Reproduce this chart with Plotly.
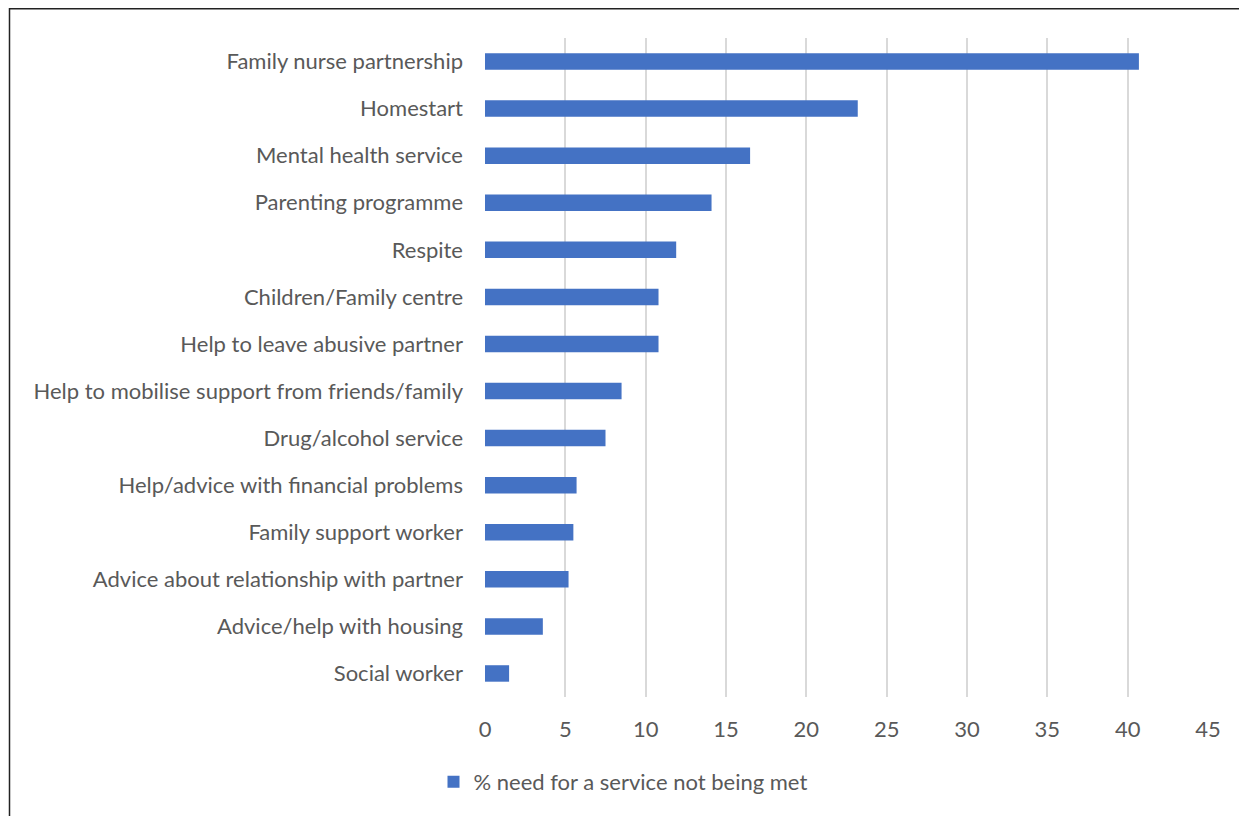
import plotly.graph_objects as go

categories = [
    "Family nurse partnership",
    "Homestart",
    "Mental health service",
    "Parenting programme",
    "Respite",
    "Children/Family centre",
    "Help to leave abusive partner",
    "Help to mobilise support from friends/family",
    "Drug/alcohol service",
    "Help/advice with financial problems",
    "Family support worker",
    "Advice about relationship with partner",
    "Advice/help with housing",
    "Social worker",
]
values = [40.7, 23.2, 16.5, 14.1, 11.9, 10.8, 10.8, 8.5, 7.5, 5.7, 5.5, 5.2, 3.6, 1.5]
series_name = "% need for a service not being met"
x_ticks = [0, 5, 10, 15, 20, 25, 30, 35, 40, 45]

FONT = "Lato"
TXT = "#595959"
FS = 22

fig = go.Figure(
    go.Bar(
        y=categories,
        x=values,
        orientation="h",
        name=series_name,
        marker=dict(color="#4472C4", line=dict(width=0)),
        showlegend=True,
    )
)

# page body has an 8px offset; target screen geometry: plot x 485..1208, y 38..697
OFF = 8
W, H = 1247 - OFF, 816 - OFF
L, R, T, B = 485 - OFF, 39, 38 - OFF, 119
pw = W - L - R
ph = H - T - B

fig.update_layout(
    width=W,
    height=H,
    margin=dict(l=L, r=R, t=T, b=B, autoexpand=False),
    paper_bgcolor="white",
    plot_bgcolor="white",
    bargap=0.65,
    font=dict(family=FONT, size=FS, color=TXT),
    xaxis=dict(
        range=[0, 45],
        tickvals=x_ticks,
        showgrid=True,
        gridcolor="#d9d9d9",
        gridwidth=2,
        zeroline=False,
        showline=False,
        ticks="",
        ticklabelstandoff=17,
        tickfont=dict(family=FONT, size=FS, color=TXT),
    ),
    yaxis=dict(
        autorange="reversed",
        showgrid=False,
        zeroline=False,
        showline=False,
        ticks="",
        ticklabelstandoff=21,
        tickfont=dict(family=FONT, size=FS, color=TXT),
    ),
    legend=dict(
        orientation="h",
        x=(623 - 485) / pw,
        xanchor="center",
        y=(697 - 782) / ph,
        yanchor="middle",
        font=dict(family=FONT, size=FS, color=TXT),
        itemwidth=30,
    ),
    shapes=[
        dict(
            type="rect",
            xref="paper",
            yref="paper",
            x0=(1.5 - L) / pw,
            x1=(W + 20 - L) / pw,
            y0=(T + ph - (H + 20)) / ph,
            y1=1 + (T - 0.75) / ph,
            line=dict(color="#222222", width=1.5),
            fillcolor="rgba(0,0,0,0)",
            layer="below",
        )
    ],
)

fig.write_html("out.html")
